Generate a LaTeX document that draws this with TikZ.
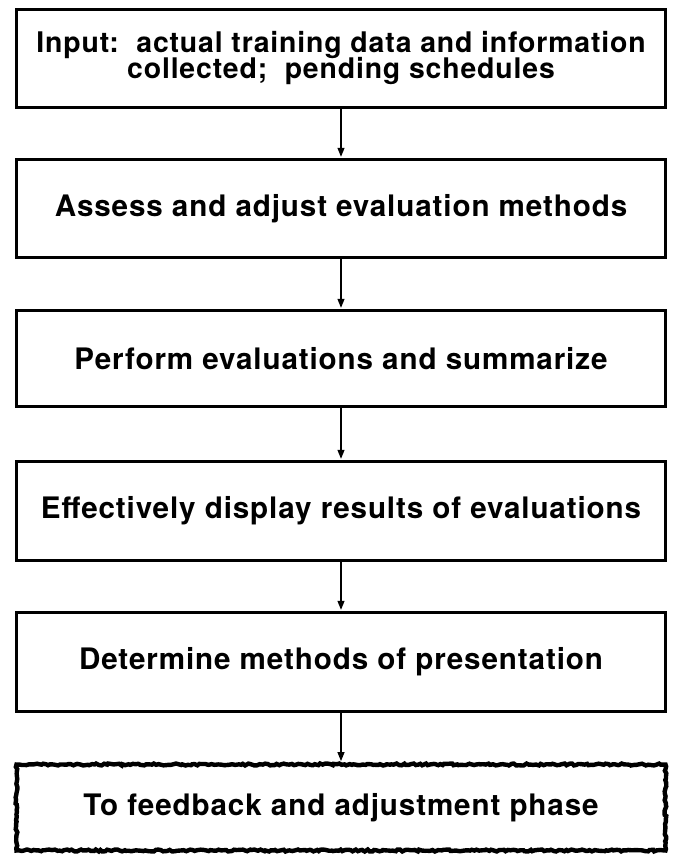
\documentclass[tikz,border=0pt]{standalone}
\usepackage{fontspec}
\setmainfont[LetterSpace=3]{TeX Gyre Heros}
\usetikzlibrary{positioning, arrows.meta, decorations.pathmorphing}

\begin{document}
\begin{tikzpicture}[x=0.5bp, y=-0.5bp,
    stage/.style={rectangle, draw=black, line width=1.5bp, minimum width=324.5bp, minimum height=49bp, align=center, inner sep=0pt, font=\fontsize{14.8bp}{14bp}\selectfont\bfseries},
    rough/.style={stage, line width=2.2bp, minimum height=43bp, decorate, decoration={random steps, segment length=1.2bp, amplitude=0.5bp}},
    flow/.style={-{Triangle[length=4.5bp, width=3.5bp]}, line width=0.6bp, shorten >=0.6bp}]
            \useasboundingbox (0, 0) rectangle (675, 857);
            \pgfmathsetseed{7}
            \node[stage, font=\fontsize{14.2bp}{14bp}\selectfont\bfseries] (1) at (341, 58.5) {\raisebox{-2.5bp}{Input:\ \ actual training data and information}\\[-1bp] \raisebox{-2.5bp}{collected;\ \ pending schedules}};
            \node[stage] (2) at (341, 208.5) {Assess and adjust evaluation methods};
            \node[stage, minimum height=48bp] (3) at (341, 358.5) {Perform evaluations and summarize};
            \node[stage, minimum height=49.5bp] (4) at (341, 511) {Effectively display results of evaluations};
            \node[stage, minimum height=49.5bp] (5) at (341, 662) {Determine methods of presentation};
            \node[rough] (6) at (341, 807.5) {To feedback and adjustment phase};

            \draw[flow] (1) -- (2);
            \draw[flow] (2) -- (3);
            \draw[flow] (3) -- (4);
            \draw[flow] (4) -- (5);
            \draw[flow] (5) -- (6);
        \end{tikzpicture}
\end{document}
